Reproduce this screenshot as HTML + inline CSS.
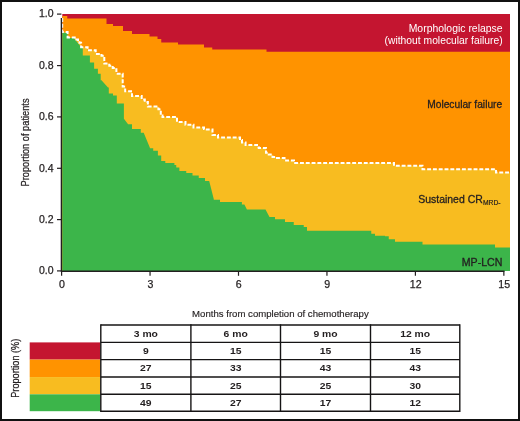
<!DOCTYPE html>
<html><head><meta charset="utf-8"><style>
html,body{margin:0;padding:0;background:#fff;}
body{width:520px;height:421px;overflow:hidden;}
svg{display:block;font-family:"Liberation Sans",sans-serif;will-change:transform;}
</style></head><body>
<svg width="520" height="421" viewBox="0 0 520 421">
<rect x="0" y="0" width="520" height="421" fill="#fff"/>
<rect x="62.3" y="14.0" width="447.7" height="257.0" fill="#C41530"/>
<path d="M62.3,271 L62.3,16 L67.25,16 L67.25,18.5 L106.5,18.5 L106.5,24 L113,24 L113,26 L123,26 L123,31 L132,31 L132,34 L149.5,34 L149.5,36.6 L157.5,36.6 L157.5,39 L161.25,39 L161.25,42.5 L178,42.5 L178,44.5 L204,44.5 L204,47.5 L212.25,47.5 L212.25,49.6 L266.5,49.6 L266.5,51.8 L510,51.8 L510,271 Z" fill="#FF9300"/>
<path d="M62.3,271 L62.2,31.9 L67.6,31.9 L67.6,37.4 L74.7,37.4 L74.7,38.4 L76.5,38.4 L76.5,39.5 L78,39.5 L78,41 L79.5,41 L79.5,42.8 L81.1,42.8 L81.1,47.2 L87.6,47.2 L87.6,50.2 L95.7,50.2 L95.7,53.9 L101.5,53.9 L101.5,55.8 L104.3,55.8 L104.3,63.6 L109.3,63.6 L109.3,65.7 L112.7,65.7 L112.7,67.9 L116.4,67.9 L116.4,73.7 L122.7,73.7 L122.7,86.6 L125.2,86.6 L125.2,91.3 L132,91.3 L132,95.9 L141.7,95.9 L141.7,99.4 L144.8,99.4 L144.8,101.9 L147.9,101.9 L147.9,106.5 L158.4,106.5 L158.4,109.3 L160.8,109.3 L160.8,115.6 L162.5,115.6 L162.5,117 L177,117 L177,121.9 L185.5,121.9 L185.5,124.75 L193.5,124.75 L193.5,127.5 L204,127.5 L204,129 L205,129 L205,129.6 L212.5,129.6 L212.5,135 L218,135 L218,137.5 L240,137.5 L240,140 L242,140 L242,142.5 L245.6,142.5 L245.6,145 L257,145 L257,147.5 L259,147.5 L259,147.9 L266,147.9 L266,152.8 L268.75,152.8 L268.75,154.6 L272.5,154.6 L272.5,157 L276,157 L276,158 L284.5,158 L284.5,160.5 L294,160.5 L294,163 L394,163 L394,165.75 L422.5,165.75 L422.5,169.25 L496,169.25 L496,172.5 L510,172.5 L510,271 Z" fill="#F8BC20"/>
<path d="M62.3,271 L62.3,32.8 L67.6,32.8 L67.6,38 L73.7,38 L73.7,38 L81.5,47.5 L82.8,47.5 L82.8,55.5 L89.9,55.5 L89.9,62.4 L94.1,62.4 L94.1,68.8 L97.9,68.8 L97.9,73.8 L100.7,73.8 L100.7,80.2 L101.7,80.2 L101.7,80.4 L108,87.5 L108.8,87.5 L108.8,93.5 L113,93.5 L113,95.6 L116.8,95.6 L116.8,103.6 L123.9,103.6 L123.9,118.8 L128.1,124.3 L132,124.3 L132,129 L140.8,129 L140.8,132.8 L143.7,132.8 L143.7,132.8 L149.9,147.8 L149.9,147.8 L149.9,148.3 L153.2,148.3 L153.2,150.7 L157.9,150.7 L157.9,155.6 L161.2,155.6 L161.2,161.1 L165.3,161.1 L165.3,162.9 L174.4,162.9 L174.4,165 L176.25,165 L176.25,167.5 L179.4,167.5 L179.4,171 L186.25,171 L186.25,173 L192.5,173 L192.5,175.6 L198.75,175.6 L198.75,178 L205,178 L205,181 L209.2,181 L209.2,181 L213.75,199 L213.75,199 L213.75,199.75 L220,199.75 L220,201.9 L241.9,201.9 L241.9,204.4 L244.4,204.4 L244.4,204.4 L246.9,209.4 L265.5,209.4 L265.5,209.4 L269.5,217 L275,217 L275,219.25 L285,219.25 L285,222 L293.75,222 L293.75,225 L303.75,225 L303.75,227 L307,227 L307,230.75 L371.25,230.75 L371.25,233.75 L375,233.75 L375,235.75 L385,235.75 L385,236.25 L388.75,236.25 L388.75,239.25 L395,239.25 L395,241.75 L422.5,241.75 L422.5,244.5 L495,244.5 L495,247.5 L510,247.5 L510,271 Z" fill="#3CB54A"/>
<path d="M62.2,18 L62.2,31.9 L67.6,31.9 L67.6,37.4 L74.7,37.4 L74.7,38.4 L76.5,38.4 L76.5,39.5 L78,39.5 L78,41 L79.5,41 L79.5,42.8 L81.1,42.8 L81.1,47.2 L87.6,47.2 L87.6,50.2 L95.7,50.2 L95.7,53.9 L101.5,53.9 L101.5,55.8 L104.3,55.8 L104.3,63.6 L109.3,63.6 L109.3,65.7 L112.7,65.7 L112.7,67.9 L116.4,67.9 L116.4,73.7 L122.7,73.7 L122.7,86.6 L125.2,86.6 L125.2,91.3 L132,91.3 L132,95.9 L141.7,95.9 L141.7,99.4 L144.8,99.4 L144.8,101.9 L147.9,101.9 L147.9,106.5 L158.4,106.5 L158.4,109.3 L160.8,109.3 L160.8,115.6 L162.5,115.6 L162.5,117 L177,117 L177,121.9 L185.5,121.9 L185.5,124.75 L193.5,124.75 L193.5,127.5 L204,127.5 L204,129 L205,129 L205,129.6 L212.5,129.6 L212.5,135 L218,135 L218,137.5 L240,137.5 L240,140 L242,140 L242,142.5 L245.6,142.5 L245.6,145 L257,145 L257,147.5 L259,147.5 L259,147.9 L266,147.9 L266,152.8 L268.75,152.8 L268.75,154.6 L272.5,154.6 L272.5,157 L276,157 L276,158 L284.5,158 L284.5,160.5 L294,160.5 L294,163 L394,163 L394,165.75 L422.5,165.75 L422.5,169.25 L496,169.25 L496,172.5 L510,172.5" fill="none" stroke="#fff" stroke-width="2" stroke-dasharray="3.9 1.9"/>
<path d="M61.4,18 V271.2 H504.5" fill="none" stroke="#231F20" stroke-width="1.4"/>
<path d="M57,14.1 H61.4" stroke="#231F20" stroke-width="1.2"/>
<text x="53.6" y="17.4" text-anchor="end" font-size="10.5" fill="#231F20" stroke="#231F20" stroke-width="0.25">1.0</text>
<path d="M57,65.6 H61.4" stroke="#231F20" stroke-width="1.2"/>
<text x="53.6" y="68.9" text-anchor="end" font-size="10.5" fill="#231F20" stroke="#231F20" stroke-width="0.25">0.8</text>
<path d="M57,116.9 H61.4" stroke="#231F20" stroke-width="1.2"/>
<text x="53.6" y="120.2" text-anchor="end" font-size="10.5" fill="#231F20" stroke="#231F20" stroke-width="0.25">0.6</text>
<path d="M57,168.3 H61.4" stroke="#231F20" stroke-width="1.2"/>
<text x="53.6" y="171.6" text-anchor="end" font-size="10.5" fill="#231F20" stroke="#231F20" stroke-width="0.25">0.4</text>
<path d="M57,219.6 H61.4" stroke="#231F20" stroke-width="1.2"/>
<text x="53.6" y="222.9" text-anchor="end" font-size="10.5" fill="#231F20" stroke="#231F20" stroke-width="0.25">0.2</text>
<path d="M57,270.9 H61.4" stroke="#231F20" stroke-width="1.2"/>
<text x="53.6" y="274.2" text-anchor="end" font-size="10.5" fill="#231F20" stroke="#231F20" stroke-width="0.25">0.0</text>
<path d="M61.60,271.2 V275.8" stroke="#231F20" stroke-width="1.2"/>
<text x="61.90" y="287.7" text-anchor="middle" font-size="10.6" fill="#231F20" stroke="#231F20" stroke-width="0.25">0</text>
<path d="M150.05,271.2 V275.8" stroke="#231F20" stroke-width="1.2"/>
<text x="150.35" y="287.7" text-anchor="middle" font-size="10.6" fill="#231F20" stroke="#231F20" stroke-width="0.25">3</text>
<path d="M238.50,271.2 V275.8" stroke="#231F20" stroke-width="1.2"/>
<text x="238.80" y="287.7" text-anchor="middle" font-size="10.6" fill="#231F20" stroke="#231F20" stroke-width="0.25">6</text>
<path d="M326.95,271.2 V275.8" stroke="#231F20" stroke-width="1.2"/>
<text x="327.25" y="287.7" text-anchor="middle" font-size="10.6" fill="#231F20" stroke="#231F20" stroke-width="0.25">9</text>
<path d="M415.40,271.2 V275.8" stroke="#231F20" stroke-width="1.2"/>
<text x="415.70" y="287.7" text-anchor="middle" font-size="10.6" fill="#231F20" stroke="#231F20" stroke-width="0.25">12</text>
<path d="M503.85,271.2 V275.8" stroke="#231F20" stroke-width="1.2"/>
<text x="504.15" y="287.7" text-anchor="middle" font-size="10.6" fill="#231F20" stroke="#231F20" stroke-width="0.25">15</text>
<text transform="translate(28.9,142.45) rotate(-90)" text-anchor="middle" font-size="10.9" fill="#231F20" stroke="#231F20" stroke-width="0.25" textLength="88" lengthAdjust="spacingAndGlyphs">Proportion of patients</text>
<text x="502.6" y="31.9" text-anchor="end" font-size="10.2" fill="#fff" textLength="93.9" lengthAdjust="spacingAndGlyphs">Morphologic relapse</text>
<text x="502.6" y="44" text-anchor="end" font-size="10.2" fill="#fff" textLength="118" lengthAdjust="spacingAndGlyphs">(without molecular failure)</text>
<text x="502.2" y="108" text-anchor="end" font-size="10.1" fill="#231F20" stroke="#231F20" stroke-width="0.3" textLength="75" lengthAdjust="spacingAndGlyphs">Molecular failure</text>
<text x="482.8" y="202.6" text-anchor="end" font-size="10.3" fill="#231F20" stroke="#231F20" stroke-width="0.3" textLength="64.6" lengthAdjust="spacingAndGlyphs">Sustained CR</text>
<text x="483" y="205.2" font-size="7" fill="#231F20" stroke="#231F20" stroke-width="0.2" textLength="17.6" lengthAdjust="spacingAndGlyphs">MRD-</text>
<text x="502.4" y="265.8" text-anchor="end" font-size="10.2" fill="#231F20" stroke="#231F20" stroke-width="0.3" textLength="40.6" lengthAdjust="spacingAndGlyphs">MP-LCN</text>
<text x="280.4" y="316.6" text-anchor="middle" font-size="9.4" fill="#231F20" stroke="#231F20" stroke-width="0.15" textLength="176.6" lengthAdjust="spacingAndGlyphs">Months from completion of chemotherapy</text>
<rect x="29.7" y="342.40" width="70.50" height="17.20" fill="#C41530"/>
<rect x="29.7" y="359.60" width="70.50" height="17.45" fill="#FF9300"/>
<rect x="29.7" y="377.05" width="70.50" height="17.25" fill="#F8BC20"/>
<rect x="29.7" y="394.30" width="70.50" height="16.90" fill="#3CB54A"/>
<path d="M100.8,325.0 H459.8" stroke="#161415" stroke-width="1.4"/>
<path d="M100.8,342.4 H459.8" stroke="#161415" stroke-width="1.4"/>
<path d="M100.8,359.6 H459.8" stroke="#161415" stroke-width="1.4"/>
<path d="M100.8,377.05 H459.8" stroke="#161415" stroke-width="1.4"/>
<path d="M100.8,394.3 H459.8" stroke="#161415" stroke-width="1.4"/>
<path d="M100.8,411.2 H459.8" stroke="#161415" stroke-width="1.4"/>
<path d="M100.8,324.3 V411.9" stroke="#161415" stroke-width="1.4"/>
<path d="M190.9,324.3 V411.9" stroke="#161415" stroke-width="1.4"/>
<path d="M280.5,324.3 V411.9" stroke="#161415" stroke-width="1.4"/>
<path d="M370.5,324.3 V411.9" stroke="#161415" stroke-width="1.4"/>
<path d="M459.8,324.3 V411.9" stroke="#161415" stroke-width="1.4"/>
<text transform="translate(145.85,336.65) scale(1.07,1)" text-anchor="middle" font-size="9.7" font-weight="bold" fill="#231F20">3 mo</text>
<text transform="translate(235.70,336.65) scale(1.07,1)" text-anchor="middle" font-size="9.7" font-weight="bold" fill="#231F20">6 mo</text>
<text transform="translate(325.50,336.65) scale(1.07,1)" text-anchor="middle" font-size="9.7" font-weight="bold" fill="#231F20">9 mo</text>
<text transform="translate(415.15,336.65) scale(1.07,1)" text-anchor="middle" font-size="9.7" font-weight="bold" fill="#231F20">12 mo</text>
<text transform="translate(145.85,354.05) scale(1.07,1)" text-anchor="middle" font-size="9.7" font-weight="bold" fill="#231F20">9</text>
<text transform="translate(235.70,354.05) scale(1.07,1)" text-anchor="middle" font-size="9.7" font-weight="bold" fill="#231F20">15</text>
<text transform="translate(325.50,354.05) scale(1.07,1)" text-anchor="middle" font-size="9.7" font-weight="bold" fill="#231F20">15</text>
<text transform="translate(415.15,354.05) scale(1.07,1)" text-anchor="middle" font-size="9.7" font-weight="bold" fill="#231F20">15</text>
<text transform="translate(145.85,371.25) scale(1.07,1)" text-anchor="middle" font-size="9.7" font-weight="bold" fill="#231F20">27</text>
<text transform="translate(235.70,371.25) scale(1.07,1)" text-anchor="middle" font-size="9.7" font-weight="bold" fill="#231F20">33</text>
<text transform="translate(325.50,371.25) scale(1.07,1)" text-anchor="middle" font-size="9.7" font-weight="bold" fill="#231F20">43</text>
<text transform="translate(415.15,371.25) scale(1.07,1)" text-anchor="middle" font-size="9.7" font-weight="bold" fill="#231F20">43</text>
<text transform="translate(145.85,388.70) scale(1.07,1)" text-anchor="middle" font-size="9.7" font-weight="bold" fill="#231F20">15</text>
<text transform="translate(235.70,388.70) scale(1.07,1)" text-anchor="middle" font-size="9.7" font-weight="bold" fill="#231F20">25</text>
<text transform="translate(325.50,388.70) scale(1.07,1)" text-anchor="middle" font-size="9.7" font-weight="bold" fill="#231F20">25</text>
<text transform="translate(415.15,388.70) scale(1.07,1)" text-anchor="middle" font-size="9.7" font-weight="bold" fill="#231F20">30</text>
<text transform="translate(145.85,405.95) scale(1.07,1)" text-anchor="middle" font-size="9.7" font-weight="bold" fill="#231F20">49</text>
<text transform="translate(235.70,405.95) scale(1.07,1)" text-anchor="middle" font-size="9.7" font-weight="bold" fill="#231F20">27</text>
<text transform="translate(325.50,405.95) scale(1.07,1)" text-anchor="middle" font-size="9.7" font-weight="bold" fill="#231F20">17</text>
<text transform="translate(415.15,405.95) scale(1.07,1)" text-anchor="middle" font-size="9.7" font-weight="bold" fill="#231F20">12</text>
<text transform="translate(18.5,368.25) rotate(-90)" text-anchor="middle" font-size="10.8" fill="#231F20" stroke="#231F20" stroke-width="0.25" textLength="59" lengthAdjust="spacingAndGlyphs">Proportion (%)</text>
<rect x="1" y="1" width="518" height="419" fill="none" stroke="#111" stroke-width="2"/>
</svg>
</body></html>
